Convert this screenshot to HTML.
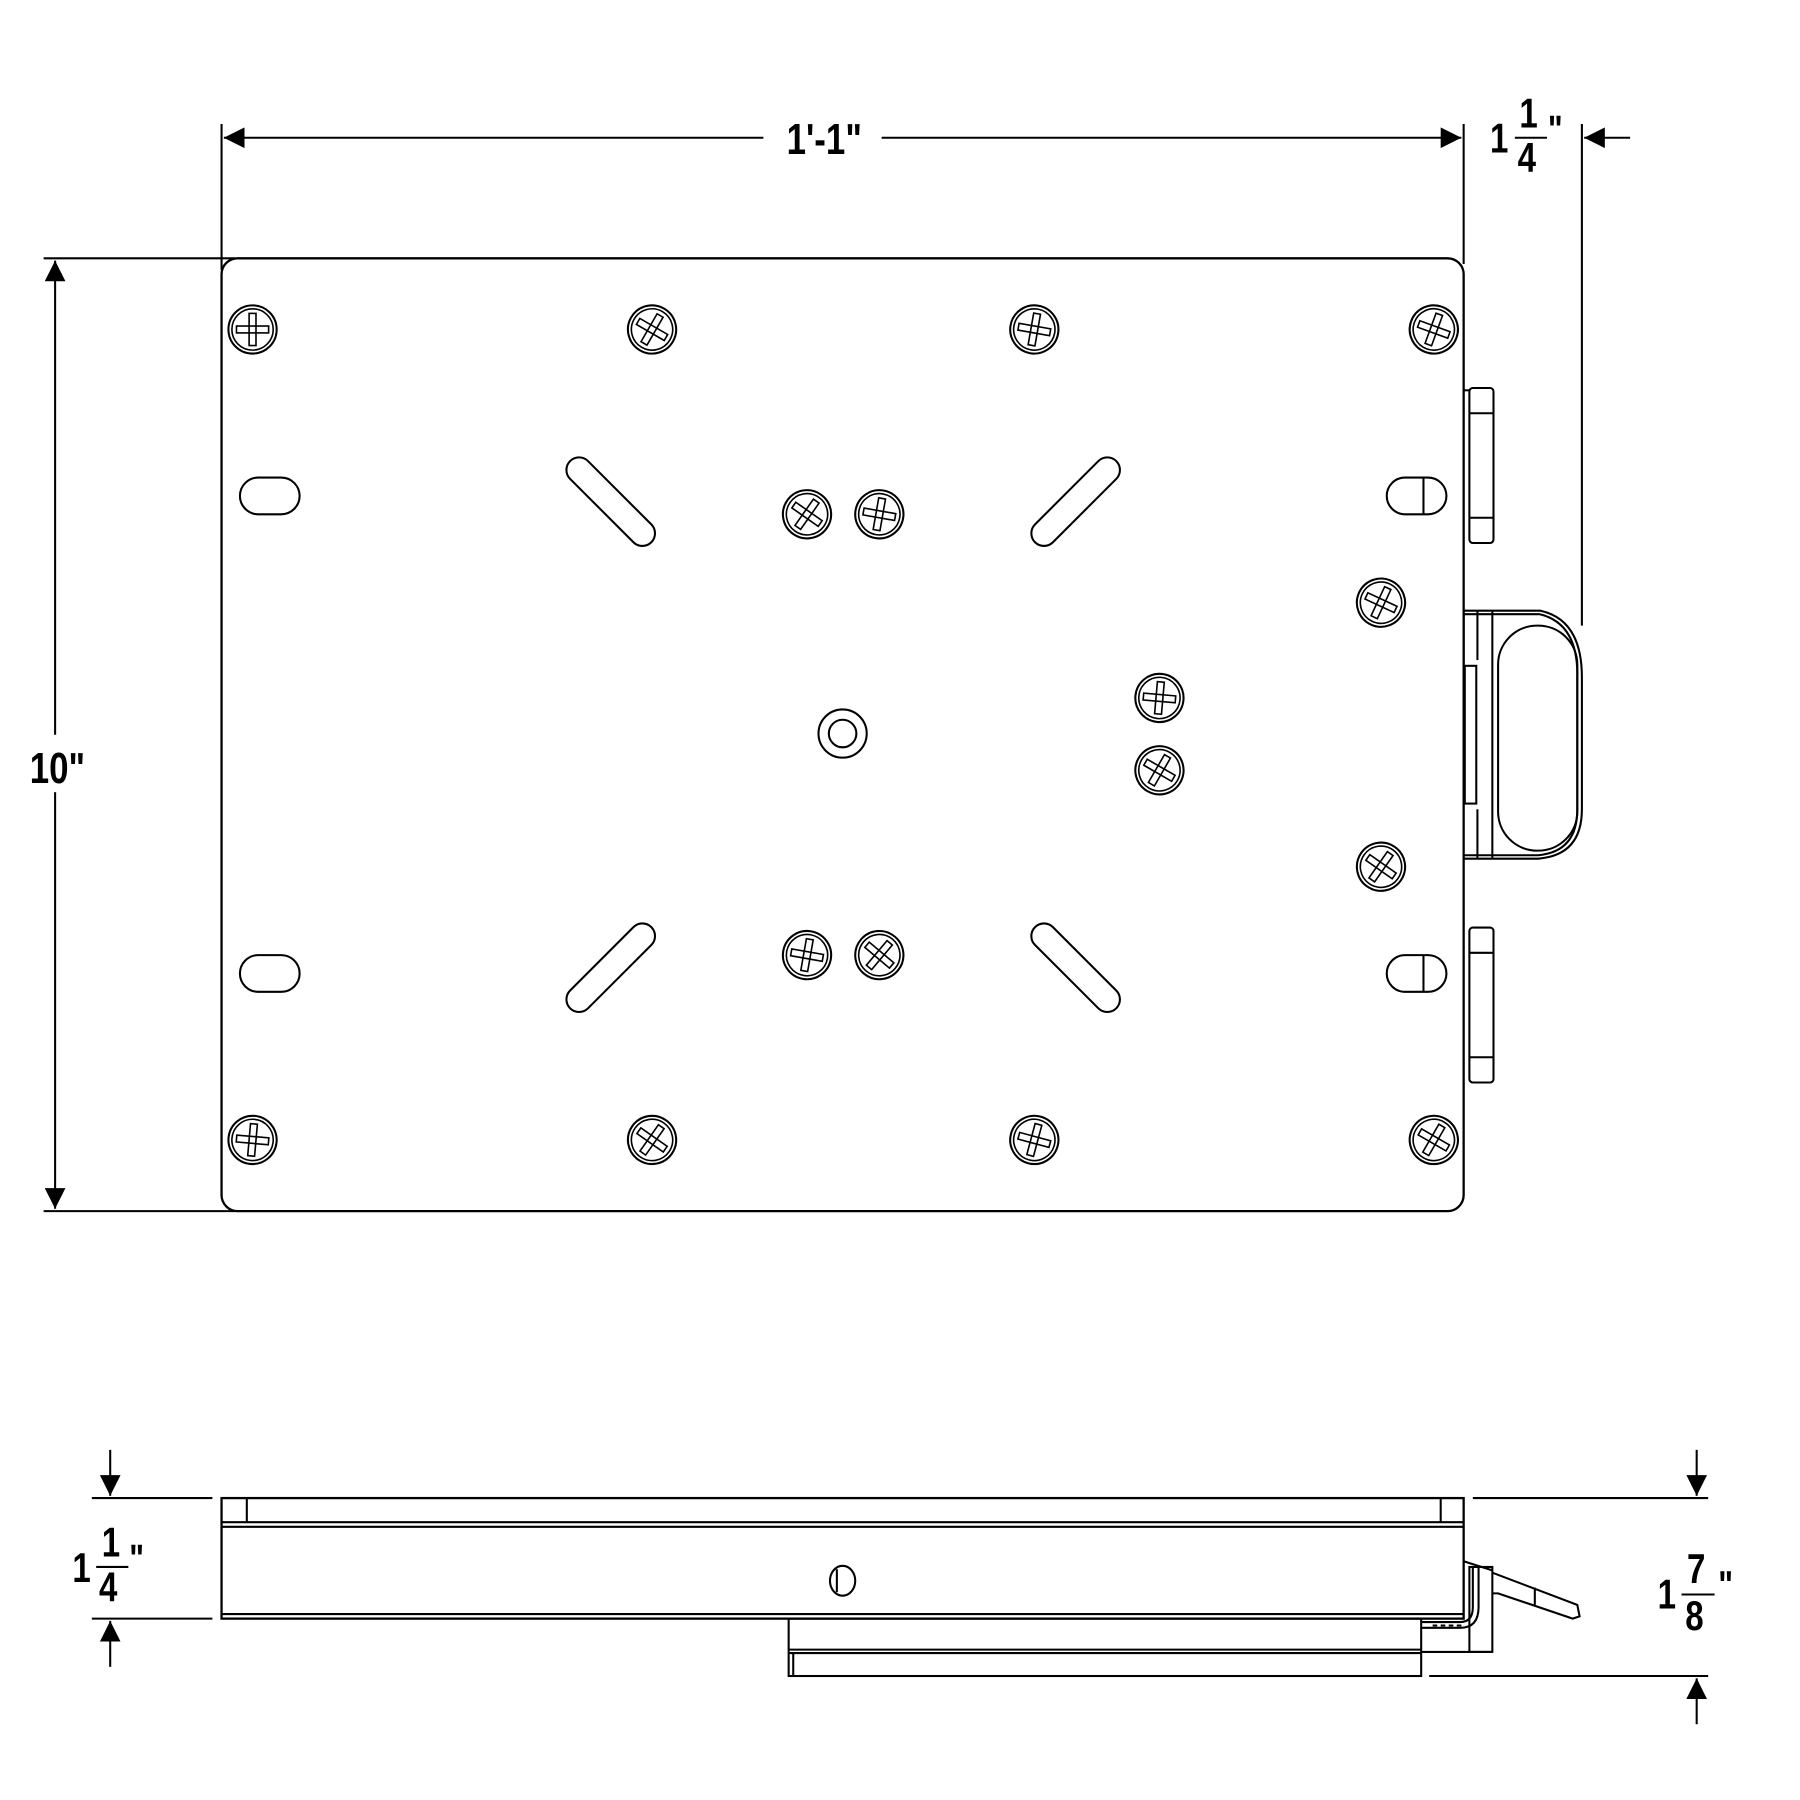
<!DOCTYPE html>
<html><head><meta charset="utf-8"><style>
html,body{margin:0;padding:0;background:#fff}
svg{display:block}
text{font-family:"Liberation Sans",sans-serif;font-weight:bold;fill:#000}
</style></head><body>
<svg width="1800" height="1800" viewBox="0 0 1568 1568" xmlns="http://www.w3.org/2000/svg">
<defs>
<g id="scr">
<circle r="21" fill="#fff" stroke="#000" stroke-width="1.8"/>
<circle r="18" fill="none" stroke="#000" stroke-width="1.4"/>
<rect x="-14" y="-3" width="28" height="6" fill="none" stroke="#000" stroke-width="1.4"/>
<rect x="-3" y="-14" width="6" height="28" fill="none" stroke="#000" stroke-width="1.4"/>
</g>
<marker id="ah" viewBox="0 0 10 10" refX="10" refY="5" markerWidth="18" markerHeight="18" markerUnits="userSpaceOnUse" orient="auto">
<path d="M0,0 L10,5 L0,10 z" fill="#000"/></marker>
</defs>
<g fill="none" stroke="#000" stroke-width="1.8">
<line x1="193" y1="108" x2="193" y2="235"/>
<line x1="1275" y1="108" x2="1275" y2="230"/>
<line x1="665" y1="120" x2="195" y2="120" marker-end="url(#ah)"/>
<line x1="768" y1="120" x2="1273" y2="120" marker-end="url(#ah)"/>
<line x1="1378" y1="108" x2="1378" y2="545"/>
<line x1="1420" y1="120" x2="1380" y2="120" marker-end="url(#ah)"/>
<line x1="38" y1="225" x2="205" y2="225"/>
<line x1="38" y1="1055" x2="205" y2="1055"/>
<line x1="48" y1="640" x2="48" y2="227" marker-end="url(#ah)"/>
<line x1="48" y1="690" x2="48" y2="1053" marker-end="url(#ah)"/>
<rect x="193" y="225" width="1082" height="830" rx="14" stroke-width="2"/>
<rect x="209" y="416" width="52" height="32" rx="16"/>
<rect x="209" y="832" width="52" height="32" rx="16"/>
<rect x="1208" y="416" width="52" height="32" rx="16"/>
<line x1="1240" y1="416" x2="1240" y2="448"/>
<rect x="1208" y="832" width="52" height="32" rx="16"/>
<line x1="1240" y1="832" x2="1240" y2="864"/>
<rect x="-11" y="-50" width="22" height="100" rx="11" transform="translate(532,437) rotate(-45)"/>
<rect x="-11" y="-50" width="22" height="100" rx="11" transform="translate(937,437) rotate(45)"/>
<rect x="-11" y="-50" width="22" height="100" rx="11" transform="translate(532,843) rotate(45)"/>
<rect x="-11" y="-50" width="22" height="100" rx="11" transform="translate(937,843) rotate(-45)"/>
<circle cx="734" cy="639" r="21"/>
<circle cx="734" cy="639" r="12"/>
<rect x="1280" y="338" width="21" height="135" rx="3"/>
<line x1="1280" y1="360" x2="1301" y2="360"/>
<line x1="1280" y1="451" x2="1301" y2="451"/>
<line x1="1275" y1="340" x2="1280" y2="340"/>
<rect x="1280" y="808" width="21" height="135" rx="3"/>
<line x1="1280" y1="830" x2="1301" y2="830"/>
<line x1="1280" y1="921" x2="1301" y2="921"/>
<path d="M1275,597 L1275,532 L1342,532 Q1378,540 1378,590 L1378,705 Q1378,745 1340,748 L1275,748"/>
<path d="M1275,535 L1341,535 Q1375,543 1374,590 L1374,705 Q1374,742 1340,745 L1275,745"/>
<line x1="1300" y1="532" x2="1300" y2="748"/>
<line x1="1287" y1="532" x2="1287" y2="575"/>
<line x1="1287" y1="705" x2="1287" y2="748"/>
<rect x="1276" y="580" width="10" height="120"/>
<rect x="1305" y="545" width="69" height="196" rx="34"/>
<line x1="80" y1="1305" x2="185" y2="1305"/>
<line x1="80" y1="1410" x2="185" y2="1410"/>
<line x1="96" y1="1263" x2="96" y2="1303" marker-end="url(#ah)"/>
<line x1="96" y1="1452" x2="96" y2="1412" marker-end="url(#ah)"/>
<line x1="1283" y1="1305" x2="1488" y2="1305"/>
<line x1="1245" y1="1460" x2="1488" y2="1460"/>
<line x1="1478" y1="1263" x2="1478" y2="1303" marker-end="url(#ah)"/>
<line x1="1478" y1="1502" x2="1478" y2="1462" marker-end="url(#ah)"/>
<rect x="193" y="1305" width="1082" height="105" stroke-width="2"/>
<line x1="193" y1="1326" x2="1275" y2="1326"/>
<line x1="193" y1="1330" x2="1275" y2="1330"/>
<line x1="215" y1="1305" x2="215" y2="1326"/>
<line x1="1255" y1="1305" x2="1255" y2="1326"/>
<line x1="193" y1="1406" x2="1275" y2="1406"/>
<rect x="687" y="1410" width="551" height="50"/>
<line x1="687" y1="1437" x2="1238" y2="1437"/>
<line x1="687" y1="1440" x2="1238" y2="1440"/>
<line x1="691" y1="1440" x2="691" y2="1460"/>
<ellipse cx="734" cy="1377" rx="11" ry="13"/>
<line x1="729" y1="1367" x2="729" y2="1387"/>
<path d="M1238,1413 L1272,1413 Q1283,1413 1283,1400 L1283,1365"/>
<path d="M1238,1418 L1272,1418 Q1288,1418 1288,1400 L1288,1365"/>
<rect x="1280" y="1365" width="20" height="74"/>
<line x1="1238" y1="1439" x2="1300" y2="1439"/>
<line x1="1275" y1="1360" x2="1300" y2="1368"/>
<path d="M1300,1370 L1374,1398 L1376,1408 L1370,1410 L1305,1388 L1300,1388"/>
<line x1="1337" y1="1383" x2="1337" y2="1398"/>
<line x1="1248" y1="1416" x2="1276" y2="1416" stroke-dasharray="4 3"/>
</g>
<g>
<use href="#scr" x="220" y="287"/>
<use href="#scr" transform="translate(568,287) rotate(30)"/>
<use href="#scr" transform="translate(901,287) rotate(10)"/>
<use href="#scr" transform="translate(1249,287) rotate(20)"/>
<use href="#scr" transform="translate(220,993) rotate(5)"/>
<use href="#scr" transform="translate(568,993) rotate(35)"/>
<use href="#scr" transform="translate(901,993) rotate(15)"/>
<use href="#scr" transform="translate(1249,993) rotate(30)"/>
<use href="#scr" transform="translate(703,448) rotate(35)"/>
<use href="#scr" transform="translate(766,448) rotate(10)"/>
<use href="#scr" transform="translate(703,832) rotate(10)"/>
<use href="#scr" transform="translate(766,832) rotate(40)"/>
<use href="#scr" transform="translate(1203,525) rotate(25)"/>
<use href="#scr" transform="translate(1203,755) rotate(35)"/>
<use href="#scr" transform="translate(1010,608) rotate(5)"/>
<use href="#scr" transform="translate(1010,671) rotate(30)"/>
</g>
<text x="718" y="134" font-size="38" text-anchor="middle" transform="translate(718,0) scale(0.8,1) translate(-718,0)">1'-1"</text>
<rect x="20" y="645" width="60" height="45" fill="#fff"/>
<text x="50" y="682" font-size="38" text-anchor="middle" transform="translate(50,0) scale(0.8,1) translate(-50,0)">10"</text>
<g transform="translate(1298,0) scale(0.8,1)">
<text x="0" y="133" font-size="36">1</text>
<text x="32" y="111" font-size="36">1</text>
<line x1="27" y1="120" x2="62" y2="120" stroke="#000" stroke-width="1.8"/>
<text x="30" y="150" font-size="36">4</text>
<text x="63" y="124" font-size="34">"</text>
</g>
<g transform="translate(63,0) scale(0.8,1)">
<text x="0" y="1378" font-size="36">1</text>
<text x="32" y="1356" font-size="36">1</text>
<line x1="26" y1="1365" x2="61" y2="1365" stroke="#000" stroke-width="1.8"/>
<text x="29" y="1395" font-size="36">4</text>
<text x="62" y="1369" font-size="34">"</text>
</g>
<g transform="translate(1444,0) scale(0.8,1)">
<text x="0" y="1401" font-size="36">1</text>
<text x="32" y="1379" font-size="36">7</text>
<line x1="26" y1="1389" x2="62" y2="1389" stroke="#000" stroke-width="1.8"/>
<text x="30" y="1420" font-size="36">8</text>
<text x="66" y="1392" font-size="34">"</text>
</g>
</svg>
</body></html>
